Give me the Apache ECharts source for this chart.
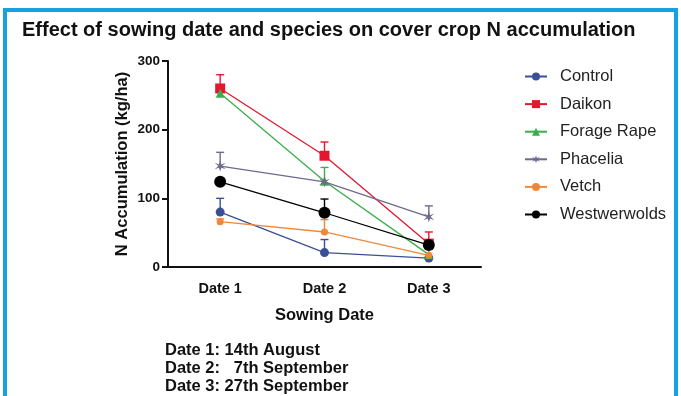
<!DOCTYPE html>
<html>
<head>
<meta charset="utf-8">
<script src="https://cdn.jsdelivr.net/npm/echarts@6/dist/echarts.min.js"></script>
<style>
html,body{margin:0;padding:0;background:#fff;}
#c{width:681px;height:396px;}
</style>
</head>
<body>
<div id="c"></div>
<script>
const categories = ['Date 1', 'Date 2', 'Date 3'];
const seriesNames = ['Control', 'Daikon', 'Forage Rape', 'Phacelia', 'Vetch', 'Westwerwolds'];
const control = [80, 21, 13];
const daikon = [260, 162, 34];
const forageRape = [253, 125, 18];
const phacelia = [147, 124, 73];
const vetch = [66, 51, 17];
const westwerwolds = [124, 79, 32];
const controlErr = [20, 19, 0];
const daikonErr = [20, 20, 17];
const forageRapeErr = [0, 20, 0];
const phaceliaErr = [20, 0, 16];
const vetchErr = [4, 18, 0];
const westwerwoldsErr = [4, 20, 0];
const yTicks = [0, 100, 200, 300];
const notes = ['Date 1: 14th August', 'Date 2:   7th September', 'Date 3: 27th September'];

const values = [control, daikon, forageRape, phacelia, vetch, westwerwolds];
const errs = [controlErr, daikonErr, forageRapeErr, phaceliaErr, vetchErr, westwerwoldsErr];
const colors = ['#3b4f96', '#e5172f', '#3aae4a', '#6e6a8c', '#f0883a', '#000000'];
const symbols = ['circle', 'rect', 'triangle',
  'path://M0,-10 L2,-3 L9,-6 L3,0 L9,6 L2,3 L0,10 L-2,3 L-9,6 L-3,0 L-9,-6 L-2,-3 Z',
  'circle', 'circle'];
const sizes = [9, 10, 9, 11, 7, 12];

const chart = echarts.init(document.getElementById('c'), null, {renderer: 'canvas'});
const font = 'Liberation Sans, Arial, sans-serif';

const series = [];
values.forEach((v, i) => {
  series.push({
    type: 'custom',
    name: seriesNames[i] + ' err',
    silent: true,
    z: 1,
    data: v.map((y, k) => [k, y, y + errs[i][k]]),
    renderItem: function (params, api) {
      const x = api.value(0);
      const lo = api.coord([x, api.value(1)]);
      const hi = api.coord([x, api.value(2)]);
      if (api.value(2) <= api.value(1)) return null;
      const w = 4;
      return {
        type: 'group',
        children: [
          {type: 'line', shape: {x1: lo[0], y1: lo[1], x2: hi[0], y2: hi[1]}, style: {stroke: colors[i], lineWidth: 1.4}},
          {type: 'line', shape: {x1: hi[0] - w, y1: hi[1], x2: hi[0] + w, y2: hi[1]}, style: {stroke: colors[i], lineWidth: 1.4}}
        ]
      };
    }
  });
});
values.forEach((v, i) => {
  series.push({
    type: 'line',
    name: seriesNames[i],
    data: v,
    z: 3,
    symbol: symbols[i],
    symbolSize: sizes[i],
    showAllSymbol: true,
    lineStyle: {color: colors[i], width: 1.3},
    itemStyle: {color: colors[i]},
    emphasis: {disabled: true},
    animation: false
  });
});

chart.setOption({
  animation: false,
  backgroundColor: '#fff',
  title: {
    text: 'Effect of sowing date and species on cover crop N accumulation',
    left: 17, top: 15,
    textStyle: {fontFamily: font, fontWeight: 'bold', fontSize: 20, color: '#111'}
  },
  grid: {left: 168, right: 200, top: 61, bottom: 129, containLabel: false},
  xAxis: {
    type: 'category',
    data: categories,
    boundaryGap: true,
    name: 'Sowing Date',
    nameLocation: 'middle',
    nameGap: 40,
    nameTextStyle: {fontFamily: font, fontWeight: 'bold', fontSize: 16.5, color: '#111'},
    axisLine: {lineStyle: {color: '#111', width: 2}},
    axisTick: {alignWithLabel: true, length: 6, lineStyle: {color: '#111', width: 2}},
    axisLabel: {fontFamily: font, fontWeight: 'bold', fontSize: 14.5, color: '#111', margin: 14},
    splitLine: {show: false}
  },
  yAxis: {
    type: 'value',
    min: yTicks[0], max: yTicks[yTicks.length - 1], interval: 100,
    name: 'N Accumulation (kg/ha)',
    nameLocation: 'middle',
    nameGap: 37,
    nameRotate: 90,
    nameTextStyle: {fontFamily: font, fontWeight: 'bold', fontSize: 16.5, color: '#111'},
    axisLine: {show: true, lineStyle: {color: '#111', width: 2}},
    axisTick: {show: true, length: 6, lineStyle: {color: '#111', width: 2}},
    axisLabel: {fontFamily: font, fontWeight: 'bold', fontSize: 13.5, color: '#111', margin: 8},
    splitLine: {show: false}
  },
  legend: {
    data: seriesNames,
    orient: 'vertical',
    left: 519, top: 63,
    itemWidth: 22, itemHeight: 10,
    itemGap: 10.6,
    textStyle: {fontFamily: font, fontSize: 16.5, lineHeight: 16, color: '#222', padding: [0, 0, 0, 8]},
    selectedMode: false
  },
  graphic: [
    {type: 'rect', shape: {x: 5, y: 10, width: 671, height: 400}, style: {fill: 'none', stroke: '#14a2e2', lineWidth: 4}, z: 100},
    {type: 'text', left: 165, top: 341,
      style: {text: notes.join('\n'), font: 'bold 16.5px ' + font, fill: '#111', lineHeight: 18}}
  ],
  series: series
});
</script>
</body>
</html>
